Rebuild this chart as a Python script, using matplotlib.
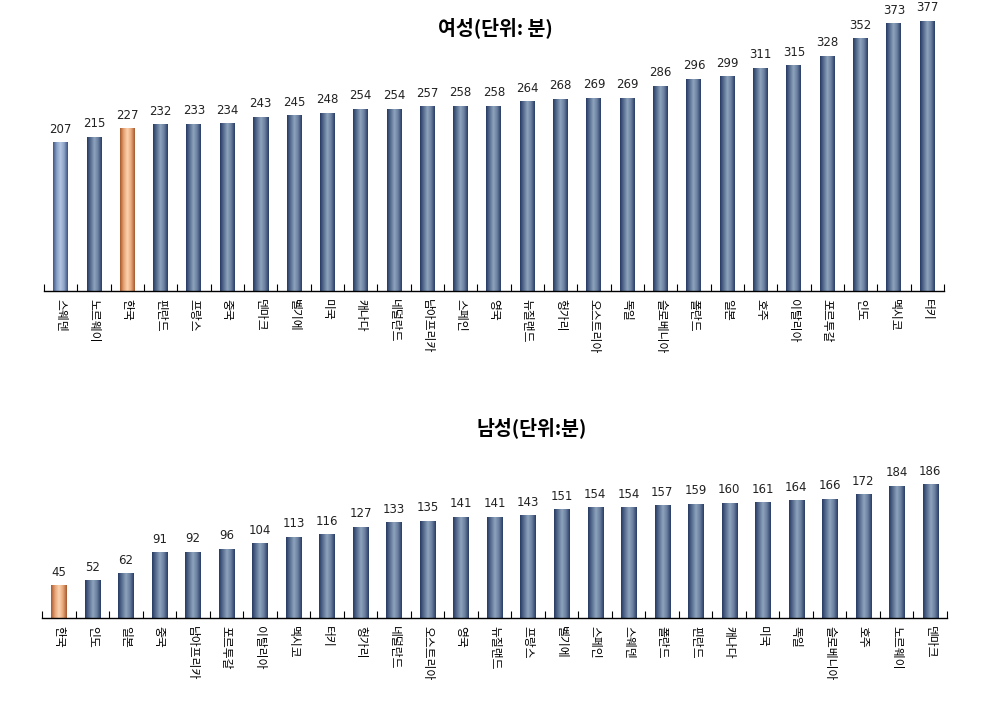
import numpy as np
import matplotlib
matplotlib.use("Agg")
import matplotlib.pyplot as plt
from matplotlib.colors import LinearSegmentedColormap

plt.rcParams['font.family'] = ['Noto Sans CJK KR', 'DejaVu Sans']

# data
women_countries = ["스웨덴", "노르웨이", "한국", "핀란드", "프랑스", "중국", "덴마크", "벨기에",
                   "미국", "캐나다", "네덜란드", "남아프리카", "스페인", "영국", "뉴질랜드", "헝가리",
                   "오스트리아", "독일", "슬로베니아", "폴란드", "일본", "호주", "이탈리아",
                   "포르투갈", "인도", "멕시코", "터키"]
women_minutes = [207, 215, 227, 232, 233, 234, 243, 245, 248, 254, 254, 257, 258, 258,
                 264, 268, 269, 269, 286, 296, 299, 311, 315, 328, 352, 373, 377]

men_countries = ["한국", "인도", "일본", "중국", "남아프리카", "포르투갈", "이탈리아", "멕시코",
                 "터키", "헝가리", "네덜란드", "오스트리아", "영국", "뉴질랜드", "프랑스", "벨기에",
                 "스페인", "스웨덴", "폴란드", "핀란드", "캐나다", "미국", "독일", "슬로베니아",
                 "호주", "노르웨이", "덴마크"]
men_minutes = [45, 52, 62, 91, 92, 96, 104, 113, 116, 127, 133, 135, 141, 141, 143, 151,
               154, 154, 157, 159, 160, 161, 164, 166, 172, 184, 186]

highlight = "한국"

# cylinder-like shading
blue_cmap = LinearSegmentedColormap.from_list(
    "blue", ["#263a63", "#5a7091", "#8ea3bd", "#6b809f", "#2a3d66"])
light_cmap = LinearSegmentedColormap.from_list(
    "lightblue", ["#3e5684", "#8aa2c6", "#b3c6e2", "#8ea3c6", "#3c5382"])
orange_cmap = LinearSegmentedColormap.from_list(
    "orange", ["#a85a2c", "#e6a477", "#fbd3b0", "#e9a87a", "#a55a2e"])
grad = np.linspace(0, 1, 64).reshape(1, -1)

fig = plt.figure(figsize=(9.93, 7.08), dpi=100)
W, H = 993, 708


def draw(ax, countries, values, first_light=False):
    x = np.arange(len(countries))
    bars = ax.bar(x, values, width=0.45, color="none", edgecolor="none")
    for i, (b, c) in enumerate(zip(bars, countries)):
        if c == highlight:
            cmap = orange_cmap
        elif first_light and i == 0:
            cmap = light_cmap
        else:
            cmap = blue_cmap
        ax.imshow(grad, cmap=cmap, aspect="auto", zorder=2,
                  extent=(b.get_x(), b.get_x() + b.get_width(), 0, b.get_height()))
        ax.annotate(str(values[i]), (b.get_x() + b.get_width() / 2, b.get_height()),
                    xytext=(0, 5), textcoords="offset points", ha="center", va="bottom",
                    fontsize=8.5, family=['DejaVu Sans'], color="#222222")
    ax.set_xlim(-0.5, len(countries) - 0.5)
    ax.set_ylim(0, 405)
    ax.set_xticks(x)
    ax.set_xticklabels(countries, rotation=270, fontsize=8.5, va="top", ha="center")
    ax.set_xticks(np.arange(len(countries) + 1) - 0.5, minor=True)
    ax.tick_params(axis="x", which="major", length=0, pad=6)
    ax.tick_params(axis="x", which="minor", direction="in", length=5, width=0.8)
    ax.set_yticks([])
    ax.patch.set_visible(False)
    for s in ["left", "top", "right"]:
        ax.spines[s].set_visible(False)
    ax.spines["bottom"].set_linewidth(1.0)


ax1 = fig.add_axes([44 / W, 1 - 291 / H, 900 / W, 290 / H])
draw(ax1, women_countries, women_minutes, first_light=True)

ax2 = fig.add_axes([42 / W, 1 - 618 / H, 905 / W, 290 / H])
draw(ax2, men_countries, men_minutes)

fig.text(495 / W, 1 - 28 / H, "여성(단위: 분)", ha="center", va="center",
         fontsize=14, fontweight="bold")
fig.text(532 / W, 1 - 428 / H, "남성(단위:분)", ha="center", va="center",
         fontsize=14, fontweight="bold")

fig.savefig("out.png", dpi=100)
